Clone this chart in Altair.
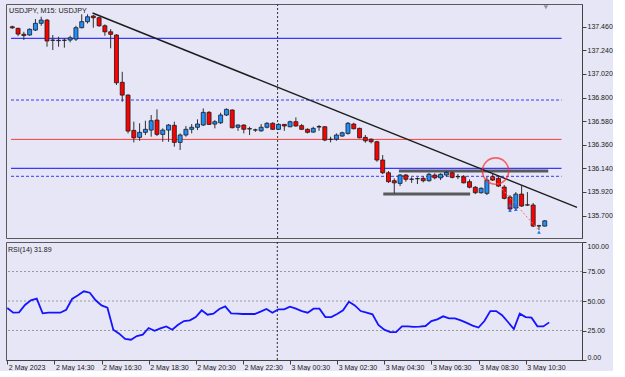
import altair as alt
import pandas as pd

# ---------------- data ----------------
opens = [137.46, 137.445, 137.39, 137.383, 137.429, 137.492, 137.522, 137.336, 137.33, 137.335,
         137.336, 137.345, 137.451, 137.507, 137.56, 137.544, 137.469, 137.413, 137.383, 136.942,
         136.823, 136.494, 136.429, 136.476, 136.497, 136.59, 136.457, 136.497, 136.541, 136.382,
         136.451, 136.504, 136.523, 136.544, 136.662, 136.553, 136.565, 136.637, 136.684, 136.523,
         136.544, 136.51, 136.497, 136.49, 136.523, 136.56, 136.504, 136.55, 136.528, 136.575,
         136.538, 136.504, 136.478, 136.53, 136.528, 136.41, 136.411, 136.441, 136.466, 136.553,
         136.513, 136.429, 136.411, 136.388, 136.218, 136.099, 136.025, 136.0, 136.078, 136.04,
         136.045, 136.047, 136.025, 136.078, 136.052, 136.078, 136.099, 136.064, 136.062, 136.016,
         135.964, 135.913, 135.907, 136.062, 136.047, 135.966, 135.873, 135.77, 135.9, 135.80,
         135.798, 135.605, 135.602]
highs = [137.47, 137.451, 137.413, 137.445, 137.532, 137.553, 137.532, 137.383, 137.367, 137.352,
         137.376, 137.469, 137.576, 137.576, 137.569, 137.553, 137.482, 137.438, 137.39, 137.04,
         136.83, 136.575, 136.56, 136.584, 136.637, 136.69, 136.513, 136.553, 136.575, 136.466,
         136.535, 136.553, 136.597, 136.699, 136.674, 136.59, 136.659, 136.699, 136.69, 136.55,
         136.55, 136.528, 136.51, 136.553, 136.57, 136.57, 136.56, 136.553, 136.584, 136.615,
         136.553, 136.513, 136.528, 136.544, 136.535, 136.435, 136.466, 136.482, 136.572, 136.565,
         136.519, 136.451, 136.42, 136.397, 136.264, 136.115, 136.047, 136.087, 136.087, 136.057,
         136.057, 136.066, 136.099, 136.094, 136.094, 136.115, 136.11, 136.087, 136.078, 136.038,
         135.975, 135.963, 136.062, 136.087, 136.078, 135.985, 135.891, 135.919, 135.985, 135.919,
         135.817, 135.614, 135.658]
lows = [137.44, 137.373, 137.336, 137.376, 137.42, 137.469, 137.274, 137.243, 137.274, 137.265,
        137.315, 137.327, 137.445, 137.49, 137.451, 137.46, 137.376, 137.259, 136.917, 136.761,
        136.466, 136.382, 136.397, 136.451, 136.435, 136.441, 136.388, 136.388, 136.342, 136.311,
        136.435, 136.466, 136.497, 136.535, 136.544, 136.513, 136.553, 136.628, 136.513, 136.49,
        136.466, 136.451, 136.48, 136.481, 136.513, 136.497, 136.497, 136.49, 136.523, 136.528,
        136.497, 136.466, 136.472, 136.49, 136.394, 136.382, 136.397, 136.435, 136.454, 136.504,
        136.42, 136.379, 136.373, 136.202, 136.087, 136.005, 135.907, 135.975, 136.016, 136.005,
        135.994, 136.01, 136.016, 136.038, 136.031, 136.062, 136.047, 136.04, 136.0, 135.954,
        135.9, 135.905, 135.891, 136.022, 135.966, 135.851, 135.733, 135.751, 135.78, 135.789,
        135.593, 135.565, 135.598]
closes = [137.45, 137.392, 137.378, 137.436, 137.492, 137.522, 137.327, 137.333, 137.334, 137.333,
          137.357, 137.451, 137.507, 137.553, 137.544, 137.469, 137.413, 137.389, 136.938, 136.823,
          136.488, 136.425, 136.476, 136.504, 136.584, 136.457, 136.497, 136.544, 136.382, 136.451,
          136.504, 136.523, 136.553, 136.662, 136.55, 136.575, 136.637, 136.69, 136.519, 136.544,
          136.504, 136.507, 136.499, 136.523, 136.56, 136.504, 136.55, 136.535, 136.575, 136.535,
          136.504, 136.476, 136.513, 136.525, 136.404, 136.411, 136.451, 136.472, 136.56, 136.509,
          136.425, 136.397, 136.388, 136.218, 136.099, 136.016, 136.005, 136.078, 136.038, 136.038,
          136.043, 136.025, 136.085, 136.052, 136.085, 136.103, 136.056, 136.062, 136.005, 135.964,
          135.913, 135.954, 136.031, 136.031, 135.975, 135.86, 135.761, 135.9, 135.789, 135.798,
          135.602, 135.603, 135.651]
rsi_values = [44.1, 40.1, 40.4, 46.6, 50.6, 52.0, 39.5, 40.1, 40.1, 40.1,
              42.6, 51.7, 54.8, 58.2, 57.0, 50.6, 46.3, 44.3, 25.7, 22.3,
              17.8, 17.2, 20.3, 21.5, 27.1, 24.8, 26.8, 28.5, 25.7, 29.9,
              33.0, 33.6, 36.4, 42.1, 38.4, 39.3, 43.2, 45.5, 39.5, 39.3,
              39.0, 39.0, 39.0, 41.0, 43.2, 40.1, 42.9, 42.9, 45.2, 43.5,
              41.5, 40.1, 43.5, 43.5, 36.4, 36.4, 39.0, 42.1, 49.4, 46.3,
              41.5, 40.1, 38.7, 29.7, 25.7, 23.7, 23.7, 28.5, 28.5, 28.0,
              28.2, 28.8, 33.0, 34.5, 37.0, 35.3, 35.3, 33.6, 31.4, 29.1,
              27.5, 33.0, 41.5, 41.5, 37.9, 32.2, 26.3, 39.3, 36.4, 35.9,
              28.5, 28.5, 31.89]

time_labels = ["2 May 2023", "2 May 14:30", "2 May 16:30", "2 May 18:30", "2 May 20:30",
               "2 May 22:30", "3 May 00:30", "3 May 02:30", "3 May 04:30", "3 May 06:30",
               "3 May 08:30", "3 May 10:30"]
price_ticks = [137.460, 137.240, 137.020, 136.800, 136.580, 136.360, 136.140, 135.920, 135.700]
rsi_ticks = [0, 25, 50, 75, 100]
rsi_levels = [25, 50, 75]

hline_solid_blue = [137.352, 136.140]
hline_dot_blue = [136.777, 136.066]
hline_red = [136.410]
trend_bar = [13.87, 97.57]
trend_price = [137.588, 135.776]
support_upper = {"start": 66.8, "end": 92.6, "price": 136.115}
support_lower = {"start": 64.1, "end": 79.1, "price": 135.901}
circle_bar, circle_price = 83.5, 136.115
dash_bar = [82.8, 90.8]
dash_price = [136.06, 135.573]
arrow_bar = [86, 86, 87, 87, 91]
arrow_price = [135.798, 135.751, 135.798, 135.758, 135.546]
vline_bar = 45.84

# ---------------- frames ----------------
n = len(opens)
bars = list(range(n))
direction = []
for o, c in zip(opens, closes):
    if abs(o - c) < 0.006:
        direction.append("flat")
    elif c > o:
        direction.append("up")
    else:
        direction.append("down")
df = pd.DataFrame({"bar": bars, "open": opens, "high": highs, "low": lows,
                   "close": closes, "dir": direction, "rsi": rsi_values})

BG = "#e6e6f6"
FONT = "Liberation Sans"
X_DOMAIN = [-0.22, 97.57]
xs = alt.Scale(domain=X_DOMAIN, nice=False, zero=False)
ys = alt.Scale(domain=[135.491, 137.672], nice=False, zero=False)
W = 576

price_axis = alt.Axis(orient="right", values=price_ticks, format=".3f", tickSize=4,
                      labelPadding=1, grid=False, title=None, labelFontSize=7,
                      labelFont=FONT, labelColor="#202020", tickColor="#404040",
                      domainColor="#404040", labelOverlap=False)


def PY(field):
    return alt.Y(field, scale=ys, axis=price_axis)


def PX(field):
    return alt.X(field, scale=xs, axis=None)


wicks = alt.Chart(df).mark_rule(color="#303030", strokeWidth=1, clip=True).encode(
    x=PX("bar:Q"), y=PY("low:Q"), y2="high:Q")
bodies = alt.Chart(df).mark_bar(size=4, stroke="#1a1a1a", strokeWidth=0.8, clip=True).encode(
    x=PX("bar:Q"), y=PY("open:Q"), y2="close:Q",
    color=alt.Color("dir:N", scale=alt.Scale(domain=["up", "down", "flat"],
                                             range=["#1e8fff", "#ff0000", "#808080"]),
                    legend=None))

hl_df = pd.DataFrame({
    "price": hline_solid_blue + hline_dot_blue + hline_red,
    "kind": ["solid"] * len(hline_solid_blue) + ["dot"] * len(hline_dot_blue) + ["red"] * len(hline_red),
})
hl_df["x0"] = X_DOMAIN[0]
hl_df["x1"] = 94.9
hl_solid = alt.Chart(hl_df[hl_df.kind == "solid"]).mark_rule(color="#3a3aff", strokeWidth=1.2, clip=True).encode(
    x=PX("x0:Q"), x2="x1:Q", y=PY("price:Q"))
hl_dot = alt.Chart(hl_df[hl_df.kind == "dot"]).mark_rule(color="#3a3aff", strokeWidth=1, strokeDash=[3, 2], clip=True).encode(
    x=PX("x0:Q"), x2="x1:Q", y=PY("price:Q"))
hl_red = alt.Chart(hl_df[hl_df.kind == "red"]).mark_rule(color="#ff3a3a", strokeWidth=1, clip=True).encode(
    x=PX("x0:Q"), x2="x1:Q", y=PY("price:Q"))

vline_main = alt.Chart(pd.DataFrame({"bar": [vline_bar]})).mark_rule(
    color="#303030", strokeWidth=1, strokeDash=[2, 2], clip=True).encode(x=PX("bar:Q"))

trend = alt.Chart(pd.DataFrame({"bar": trend_bar, "price": trend_price})).mark_line(
    color="#1e1e1e", strokeWidth=1.5, clip=True).encode(x=PX("bar:Q"), y=PY("price:Q"))

sup_df = pd.DataFrame({"s": [support_upper["start"], support_lower["start"]],
                       "e": [support_upper["end"], support_lower["end"]],
                       "price": [support_upper["price"], support_lower["price"]]})
supports = alt.Chart(sup_df).mark_rule(color="#4a4a4a", strokeWidth=3, opacity=0.9).encode(
    x=PX("s:Q"), x2="e:Q", y=PY("price:Q"))

circle = alt.Chart(pd.DataFrame({"bar": [circle_bar], "price": [circle_price]})).mark_point(
    shape="circle", size=690, filled=False, color="#ff2a2a", strokeWidth=1.6).encode(
    x=PX("bar:Q"), y=PY("price:Q"))

dashline = alt.Chart(pd.DataFrame({"bar": dash_bar, "price": dash_price})).mark_line(
    color="#ff6a6a", strokeWidth=1, strokeDash=[2, 2]).encode(x=PX("bar:Q"), y=PY("price:Q"))

arrows = alt.Chart(pd.DataFrame({"bar": arrow_bar, "price": arrow_price})).mark_point(
    shape="triangle-up", size=14, filled=True, color="#1e6fff", opacity=1).encode(
    x=PX("bar:Q"), y=PY("price:Q"))

shift_marker = alt.Chart(pd.DataFrame({"bar": [92.2], "price": [137.642]})).mark_point(
    shape="triangle-down", size=22, filled=True, color="#707070", clip=True).encode(
    x=PX("bar:Q"), y=PY("price:Q"))

title_main = alt.Chart(pd.DataFrame({"t": ["USDJPY, M15:  USDJPY"]})).mark_text(
    align="left", baseline="middle", font=FONT, fontSize=7.2, color="#202020").encode(
    x=alt.value(3), y=alt.value(6.5), text="t:N")

main = alt.layer(hl_solid, hl_dot, hl_red, vline_main, supports, trend, wicks, bodies,
                 dashline, circle, arrows, shift_marker, title_main).properties(width=W, height=234)

# ---------------- RSI panel ----------------
rs = alt.Scale(domain=[0, 100], nice=False, zero=False)
label_expr = "[" + ",".join("'" + s + "'" for s in time_labels) + "][round(datum.value / 8)]"
time_axis = alt.Axis(values=[8 * i for i in range(len(time_labels))], labelExpr=label_expr,
                     labelAlign="left", labelFlush=False, labelOffset=1, labelOverlap=False,
                     tickSize=4, labelPadding=-1, grid=False, title=None, labelFontSize=7,
                     labelFont=FONT, labelColor="#202020", tickColor="#404040",
                     domainColor="#404040", labelBaseline="top")
rsi_axis = alt.Axis(orient="right", values=rsi_ticks, format=".2f", tickSize=4, labelPadding=1,
                    labelFlush=True, grid=False, title=None, labelFontSize=7, labelFont=FONT,
                    labelColor="#202020", tickColor="#404040", domainColor="#404040",
                    labelOverlap=False)

rsi_grid = alt.Chart(pd.DataFrame({"lvl": rsi_levels})).mark_rule(
    color="#9a9a9a", strokeWidth=1, strokeDash=[2, 2]).encode(y=alt.Y("lvl:Q", scale=rs, axis=rsi_axis))
rsi_vline = alt.Chart(pd.DataFrame({"bar": [vline_bar]})).mark_rule(
    color="#303030", strokeWidth=1, strokeDash=[2, 2], clip=True).encode(
    x=alt.X("bar:Q", scale=xs, axis=time_axis))
rsi_line = alt.Chart(df).mark_line(color="#1414ff", strokeWidth=1.8, clip=True).encode(
    x=alt.X("bar:Q", scale=xs, axis=time_axis), y=alt.Y("rsi:Q", scale=rs, axis=rsi_axis))
rsi_title = alt.Chart(pd.DataFrame({"t": ["RSI(14) 31.89"]})).mark_text(
    align="left", baseline="middle", font=FONT, fontSize=7, color="#202020").encode(
    x=alt.value(2), y=alt.value(7.5), text="t:N")

rsi_chart = alt.layer(rsi_grid, rsi_vline, rsi_line, rsi_title).properties(width=W, height=118)

chart = alt.vconcat(main, rsi_chart, spacing=2).properties(
    padding={"left": 5, "top": 3, "right": 0, "bottom": 0}, background=BG
).configure_view(stroke="#5a5a5a", strokeWidth=1, fill=BG).configure_axis(labelFont=FONT)

chart.save("out.html", embed_options={"renderer": "svg", "actions": False})
